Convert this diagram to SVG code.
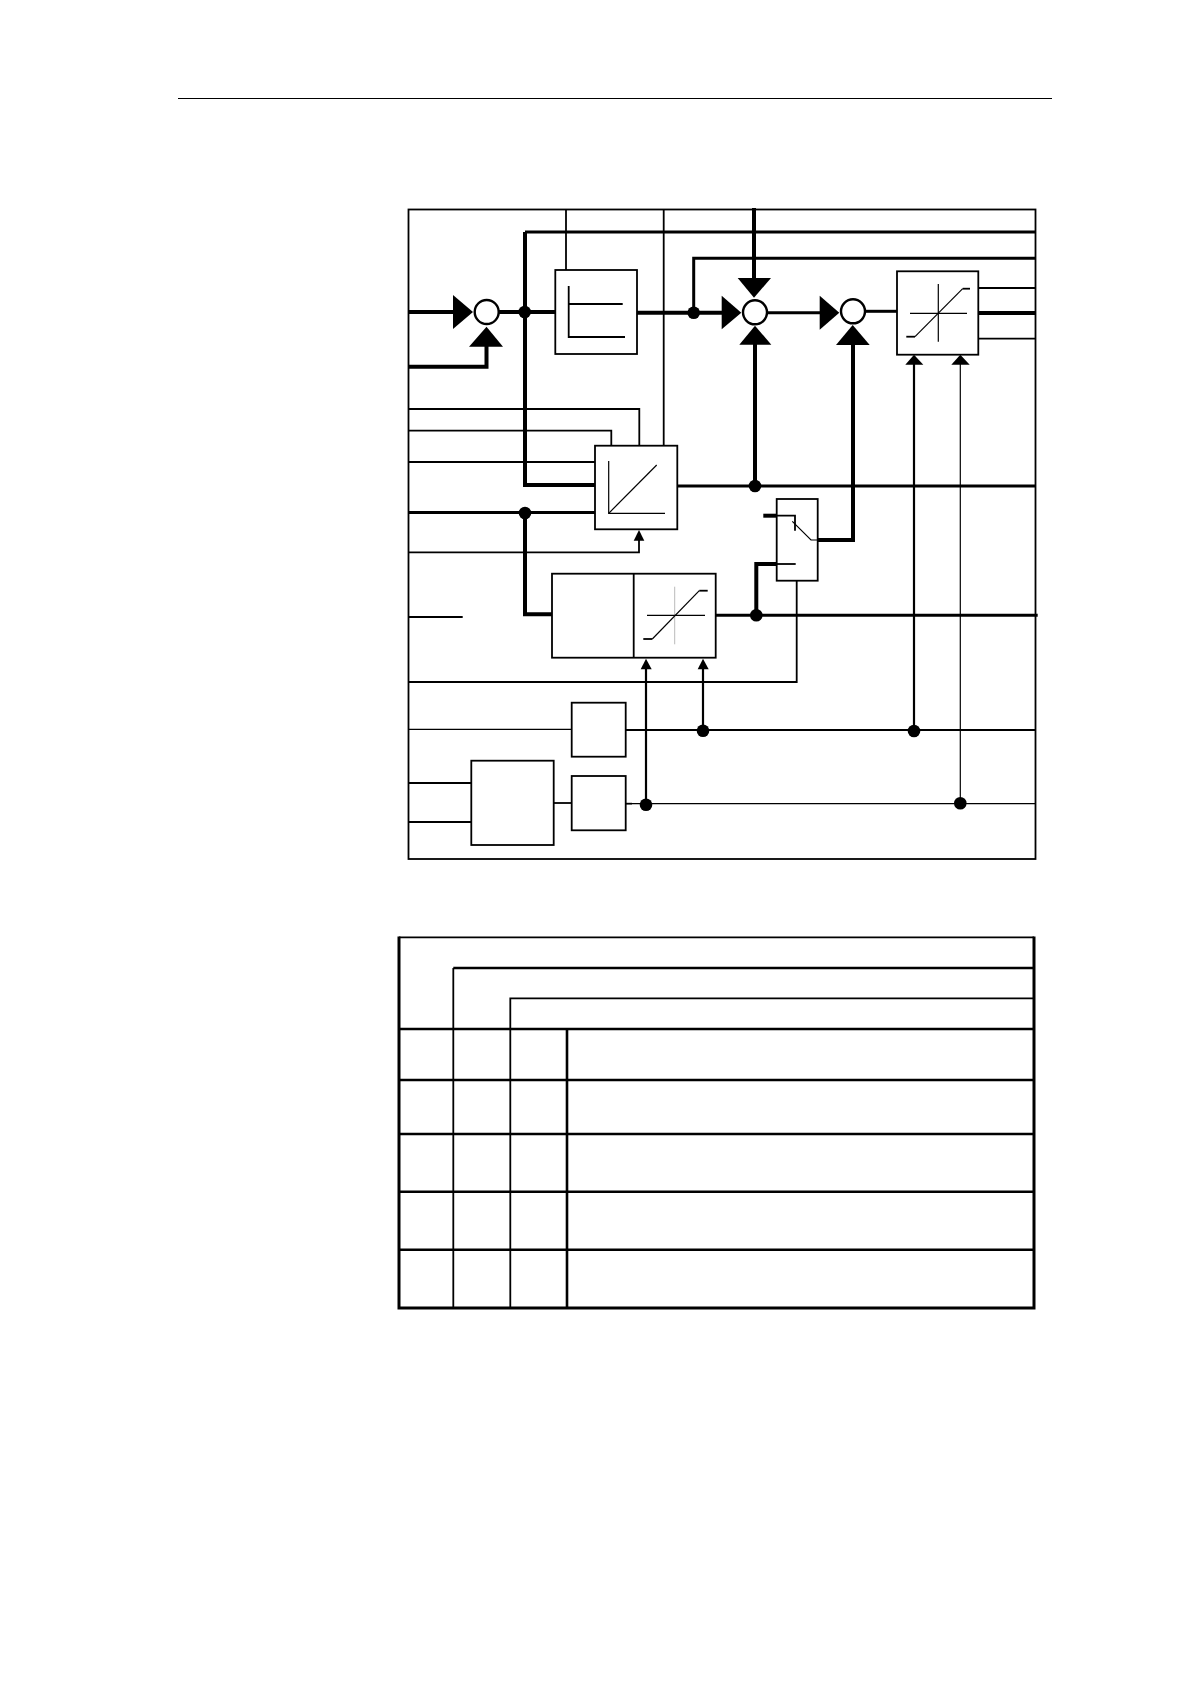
<svg xmlns="http://www.w3.org/2000/svg" width="1190" height="1684" viewBox="0 0 1190 1684">
<style>
.l{fill:none;stroke:#000;stroke-linejoin:miter}
.w1{stroke-width:1.2}.w2{stroke-width:1.8}.wm{stroke-width:2.2}.wt{stroke-width:2.6}.w3{stroke-width:3}.w4{stroke-width:4}
.box{fill:#fff;stroke:#000;stroke-width:1.8}
.sum{fill:#fff;stroke:#000;stroke-width:2.4}
.a{fill:#000}
</style>
<defs>
<circle id="dot" r="6.3" fill="#000"/>
</defs>
<rect width="1190" height="1684" fill="#fff"/>
<line id="header-rule" class="l w1" x1="178" y1="98.5" x2="1052" y2="98.5"/>
<rect id="frame" x="408.5" y="209.5" width="627" height="649.5" class="l w2"/>
<g id="connectors">
<path class="l w4" d="M408 312H455"/>
<path class="l w4" d="M408 366.7H486.5V345"/>
<path class="l w4" d="M499 312H555"/>
<path class="l w3" d="M1035 232H525"/>
<path class="l w4" d="M525 232V485H595"/>
<path class="l w2" d="M566 209.5V270"/>
<path class="l w2" d="M663.7 209.5V446"/>
<path class="l w4" d="M637 312.7H723"/>
<path class="l w3" d="M1035 258.3H693.7V312.7"/>
<path class="l w2" d="M408 409H639.3V446"/>
<path class="l w2" d="M408 430.7H611.3V446"/>
<path class="l w2" d="M408 462H595"/>
<path class="l w3" d="M677 486H1035"/>
<path class="l w4" d="M754 208V280"/>
<path class="l w4" d="M755 343V486"/>
<path class="l w3" d="M767 312.7H822"/>
<path class="l w4" d="M853 343V540H817.7"/>
<path class="l w3" d="M866 311.3H897"/>
<path class="l w2" d="M978 288H1035"/>
<path class="l w4" d="M978 313H1035"/>
<path class="l w2" d="M978 338.7H1035"/>
<path class="l wm" d="M914 363V731"/>
<path class="l w1" d="M960.3 363V803.3"/>
<path class="l w3" d="M408 512.5H595"/>
<path class="l w4" d="M525 513V614.3H552"/>
<path class="l w2" d="M408 552.3H639V540"/>
<path class="l w2" d="M408 617H462.7"/>
<path class="l w3" d="M716 615.3H1037.7"/>
<path class="l w4" d="M756.3 615.3V564H777"/>
<path class="l w2" d="M796.7 580.7V682H408"/>
<path class="l wm" d="M646 668V804.7"/>
<path class="l wm" d="M703 668V730.7"/>
<path class="l w1" d="M408 729.3H572"/>
<path class="l wm" d="M626 730H1035"/>
<path class="l w2" d="M408 783H471.3"/>
<path class="l w2" d="M408 822H471.3"/>
<path class="l w2" d="M553.7 803H571.7"/>
<path class="l w2" d="M626 803.7H632"/>
<path class="l w1" d="M632 803.7H1035"/>
<path class="l w4" d="M763.3 515.7H777"/>
<path class="a" d="M453 295L473 312L453 329Z"/>
<path class="a" d="M486.5 326.7L503 346.7H469Z"/>
<path class="a" d="M721.7 295.7L741.3 312.7L721.7 329.3Z"/>
<path class="a" d="M737.7 278H771L754 297.7Z"/>
<path class="a" d="M755 325.7L771.3 344.7H739.3Z"/>
<path class="a" d="M819.7 295.7L839.3 312.7L819.7 329.7Z"/>
<path class="a" d="M852.7 325L869.7 345H836Z"/>
<path class="a" d="M914 354.7L923.3 364.7H905.3Z"/>
<path class="a" d="M960.3 354.7L969.7 364.7H951.3Z"/>
<path class="a" d="M639 530L644.3 540.7H633.7Z"/>
<path class="a" d="M646 658.7L651.7 669.3H640.7Z"/>
<path class="a" d="M703 658.7L708.7 669.3H697.7Z"/>
<use href="#dot" x="524.7" y="312"/>
<use href="#dot" x="693.7" y="312.7"/>
<use href="#dot" x="755" y="486"/>
<use href="#dot" x="525" y="513"/>
<use href="#dot" x="756.3" y="615.3"/>
<use href="#dot" x="703" y="730.7"/>
<use href="#dot" x="914" y="731"/>
<use href="#dot" x="646" y="804.7"/>
<use href="#dot" x="960.3" y="803.3"/>
</g>
<g id="sum1"><circle class="sum" cx="486.7" cy="312" r="12"/></g>
<g id="sum2"><circle class="sum" cx="755" cy="312.3" r="12"/></g>
<g id="sum3"><circle class="sum" cx="853" cy="311.3" r="12"/></g>
<g id="block-threshold">
<rect class="box" x="555.3" y="270" width="81.7" height="84"/>
<path class="l w2" d="M568.7 286V337H625"/>
<path class="l w2" d="M569 304H622.7"/>
</g>
<g id="block-ramp">
<rect class="box" x="595" y="445.7" width="82.3" height="83.6"/>
<path class="l w1" d="M608.7 461V513.3H665"/>
<path class="l w1" d="M608.7 513.3L656.7 465"/>
</g>
<g id="block-limiter">
<rect class="box" x="897" y="271.3" width="81.3" height="83.4"/>
<path class="l w1" d="M938.3 284V341.7"/>
<path class="l w1" d="M910 313.3H967"/>
<path class="l w1" d="M915 336.7L962.7 288.7"/>
<path class="l w2" d="M906.3 336.7H915"/>
<path class="l w2" d="M962.7 288.7H970"/>
</g>
<g id="block-controller">
<rect class="box" x="552" y="573.7" width="163.7" height="84"/>
<line class="l w2" x1="633.7" y1="573.7" x2="633.7" y2="657.7"/>
<path d="M674.7 586.7V644.3" fill="none" stroke="#bbb" stroke-width="1"/>
<path class="l w1" d="M647 615.3H705"/>
<path class="l w1" d="M652.3 639L699.3 590.7"/>
<path class="l w2" d="M643.3 639H652.3"/>
<path class="l w2" d="M699.3 590.7H707.7"/>
</g>
<g id="block-switch">
<rect class="box" x="776.7" y="499" width="41" height="81.7"/>
<path class="l w2" d="M777 515.7H795V530.7"/>
<path class="l w1" d="M792.3 521.3L811 540H817.7"/>
<path class="l w2" d="M777 564H795.7"/>
</g>
<g id="block-small-upper"><rect class="box" x="571.7" y="702.7" width="54" height="54"/></g>
<g id="block-small-lower"><rect class="box" x="571.7" y="776" width="54" height="54.3"/></g>
<g id="block-input"><rect class="box" x="471.3" y="760.7" width="82.4" height="84.3"/></g>
<g id="table">
<path class="l w2" d="M399 937.3H1034"/>
<path class="l w3" d="M399 936.4V1308H1034V936.4"/>
<path class="l wt" d="M1034 968H453.3"/>
<path class="l w2" d="M453.3 968V1308"/>
<path class="l w2" d="M1034 998.3H510.3V1308"/>
<path class="l wt" d="M567 1029V1308"/>
<path class="l wt" d="M399 1029H1034M399 1080H1034M399 1134H1034M399 1191.7H1034M399 1249.7H1034"/>
</g>
</svg>
